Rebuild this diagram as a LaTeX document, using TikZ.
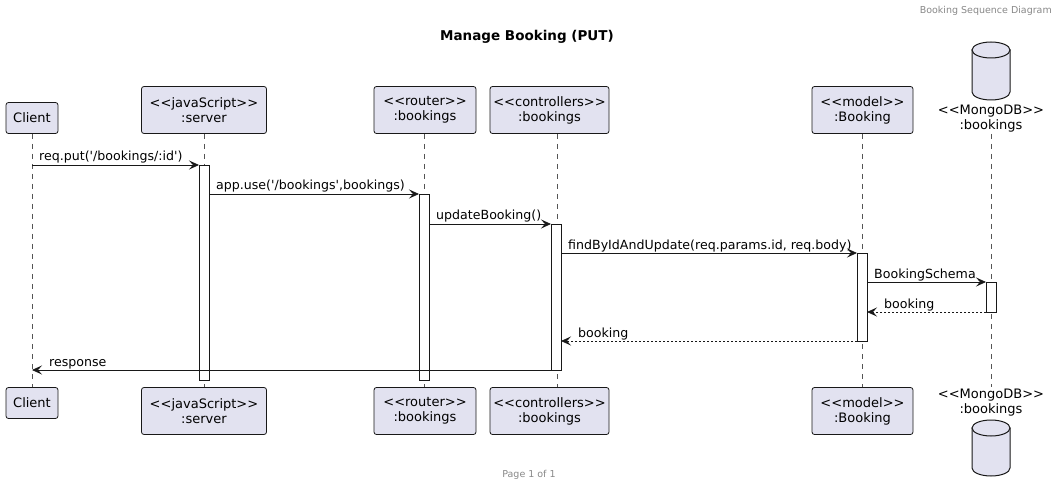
\documentclass[tikz,border=0pt]{standalone}
\usepackage{fontspec}
\newfontfamily\dv{DejaVu Sans}
\usetikzlibrary{arrows.meta}
\definecolor{boxfill}{HTML}{E2E2F0}
\definecolor{ln}{HTML}{181818}
\definecolor{lifec}{HTML}{555555}
\definecolor{hdr}{HTML}{888888}
\newcommand\gl{<\kern0pt<}
\newcommand\gr{>\kern0pt>}
\begin{document}
\begin{tikzpicture}[x=1pt,y=-1pt,font=\dv,
  part/.style={draw=ln,fill=boxfill,rounded corners=2.5pt,line width=0.8pt,align=center,font=\dv\fontsize{13}{15}\selectfont,inner sep=0pt},
  life/.style={draw=lifec,line width=0.6pt,dash pattern=on 5pt off 5pt},
  actbar/.style={draw=ln,fill=white,line width=0.8pt},
  msg/.style={draw=ln,line width=0.8pt,-{Stealth[length=10pt,width=9pt,inset=4pt]}},
  ret/.style={msg,dash pattern=on 2pt off 2pt},
  lbl/.style={font=\dv\fontsize{12.6}{14}\selectfont,inner sep=0pt,anchor=base west},
  cyl/.style={draw=ln,fill=boxfill,line width=1pt},
  dblbl/.style={align=center,font=\dv\fontsize{13}{15}\selectfont,inner sep=0pt}
]
\useasboundingbox (0,0) rectangle (1059,486);
% header, title, footer
\node[font=\dv\fontsize{9.5}{11}\selectfont,text=hdr,anchor=base east,inner sep=0pt] (hdrtxt) at (1052,14) {Booking Sequence Diagram};
\node[font=\dv\bfseries\fontsize{13.5}{15}\selectfont,inner sep=0pt,anchor=base] (title) at (527,41) {Manage Booking (PUT)};
\node[font=\dv\fontsize{9.5}{11}\selectfont,text=hdr,inner sep=0pt,anchor=base] (foot) at (529,477) {Page 1 of 1};

% lifelines
\coordinate (cT) at (32,134); \coordinate (cB) at (32,387);
\coordinate (sT) at (204,134); \coordinate (sB) at (204,387);
\coordinate (rT) at (424,134); \coordinate (rB) at (424,387);
\coordinate (kT) at (557,134); \coordinate (kB) at (557,387);
\coordinate (mT) at (862,134); \coordinate (mB) at (862,387);
\coordinate (dT) at (991,134); \coordinate (dB) at (991,387);
\foreach \a/\b in {cT/cB,sT/sB,rT/rB,kT/kB,mT/mB,dT/dB} \draw[life] (\a) -- (\b);

% participants top
\node[part,minimum width=52pt,minimum height=31pt] (client) at (32,118) {Client};
\node[part,minimum width=125pt,minimum height=47pt] (server) at (204,110) {\gl javaScript\gr\\:server};
\node[part,minimum width=102pt,minimum height=47pt] (router) at (425,110) {\gl router\gr\\:bookings};
\node[part,minimum width=119pt,minimum height=47pt] (ctrl) at (549.5,110) {\gl controllers\gr\\:bookings};
\node[part,minimum width=101pt,minimum height=47pt] (model) at (862.5,110) {\gl model\gr\\:Booking};
% participants bottom
\node[part,minimum width=52pt,minimum height=31pt] (client2) at (32,403) {Client};
\node[part,minimum width=125pt,minimum height=47pt] (server2) at (204,411) {\gl javaScript\gr\\:server};
\node[part,minimum width=102pt,minimum height=47pt] (router2) at (425,411) {\gl router\gr\\:bookings};
\node[part,minimum width=119pt,minimum height=47pt] (ctrl2) at (549.5,411) {\gl controllers\gr\\:bookings};
\node[part,minimum width=101pt,minimum height=47pt] (model2) at (862.5,411) {\gl model\gr\\:Booking};

% database top
\draw[cyl] (972,50) -- (972,92) arc[start angle=180,end angle=0,x radius=19,y radius=8] -- (1010,50) -- cycle;
\draw[cyl] (991,50) ellipse[x radius=19,y radius=8];
\node[dblbl] (db) at (991,119) {\gl MongoDB\gr\\:bookings};
% database bottom
\node[dblbl] (db2) at (991,403) {\gl MongoDB\gr\\:bookings};
\draw[cyl] (972,428) -- (972,468) arc[start angle=180,end angle=0,x radius=19,y radius=8] -- (1010,428) -- cycle;
\draw[cyl] (991,428) ellipse[x radius=19,y radius=8];

% activation bars
\draw[actbar] (199,165) rectangle (209,380);
\draw[actbar] (419,194) rectangle (429,380);
\draw[actbar] (551,224) rectangle (561,370);
\draw[actbar] (857,253) rectangle (867,341);
\draw[actbar] (986,282) rectangle (996,312);

% messages
\coordinate (m1a) at (32,165);  \coordinate (m1b) at (199,165);
\coordinate (m2a) at (209,194); \coordinate (m2b) at (419,194);
\coordinate (m3a) at (429,224); \coordinate (m3b) at (551,224);
\coordinate (m4a) at (561,253); \coordinate (m4b) at (857,253);
\coordinate (m5a) at (867,282); \coordinate (m5b) at (986,282);
\coordinate (m6a) at (986,312); \coordinate (m6b) at (867,312);
\coordinate (m7a) at (857,341); \coordinate (m7b) at (561,341);
\coordinate (m8a) at (551,370); \coordinate (m8b) at (32,370);

\draw[msg] (m1a) -- (m1b);
\node[lbl] (l1) at (39,161) {req.put('/bookings/:id')};
\draw[msg] (m2a) -- (m2b);
\node[lbl] (l2) at (216,190) {app.use('/bookings',bookings)};
\draw[msg] (m3a) -- (m3b);
\node[lbl] (l3) at (436,220) {updateBooking()};
\draw[msg] (m4a) -- (m4b);
\node[lbl] (l4) at (568,249) {findByIdAndUpdate(req.params.id, req.body)};
\draw[msg] (m5a) -- (m5b);
\node[lbl] (l5) at (874,278) {BookingSchema};
\draw[ret] (m6a) -- (m6b);
\node[lbl] (l6) at (884,308) {booking};
\draw[ret] (m7a) -- (m7b);
\node[lbl] (l7) at (578,337) {booking};
\draw[msg] (m8a) -- (m8b);
\node[lbl] (l8) at (49,366) {response};
\end{tikzpicture}
\end{document}
